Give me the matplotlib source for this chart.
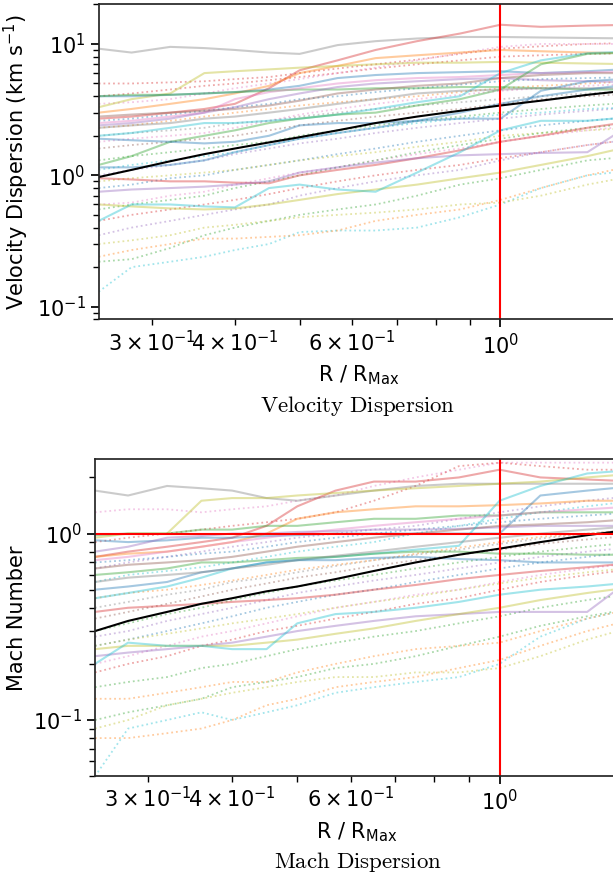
import numpy as np
import matplotlib
matplotlib.use("Agg")
import matplotlib.pyplot as plt

# radius grid (R / R_max) shared by all profiles
r_grid = [0.25, 0.28, 0.32, 0.36, 0.40, 0.45, 0.50, 0.57, 0.65, 0.75, 0.87, 1.0, 1.15, 1.35, 1.6]

# ---- velocity dispersion (km/s) ----
vel_median = [0.97, 1.1, 1.28, 1.45, 1.6, 1.78, 1.95, 2.2, 2.5, 2.8, 3.1, 3.4, 3.7, 4.1, 4.5]

vel_solid = [
    ('tab:gray',   [9.2, 8.6, 9.5, 9.3, 9.0, 8.6, 8.4, 9.8, 10.5, 11.0, 11.3, 11.3, 11.2, 11.1, 11.0]),
    ('tab:red',    [2.7, 2.8, 3.0, 3.2, 3.5, 4.6, 6.3, 7.5, 9.0, 10.5, 12.0, 14.0, 13.5, 13.8, 14.0]),
    ('tab:orange', [3.0, 3.2, 3.5, 3.8, 4.2, 4.8, 6.0, 6.8, 7.8, 8.2, 8.6, 9.0, 8.8, 8.6, 8.5]),
    ('tab:olive',  [3.3, 3.8, 4.2, 6.0, 6.2, 6.4, 6.6, 6.8, 7.0, 7.2, 7.2, 7.3, 7.2, 7.1, 7.0]),
    ('tab:blue',   [4.0, 4.0, 4.1, 4.2, 4.3, 4.5, 4.8, 5.5, 5.8, 6.0, 6.1, 6.2, 6.0, 6.2, 6.5]),
    ('tab:green',  [4.0, 4.1, 4.1, 4.2, 4.3, 4.4, 4.5, 4.5, 4.6, 4.6, 4.7, 4.7, 4.6, 4.5, 4.5]),
    ('tab:pink',   [2.5, 2.6, 2.8, 3.0, 3.8, 4.3, 4.6, 5.0, 5.3, 5.5, 5.6, 5.8, 6.0, 6.1, 6.2]),
    ('tab:purple', [2.4, 2.5, 2.7, 3.0, 3.3, 3.8, 4.2, 4.7, 5.0, 5.2, 5.4, 5.5, 5.3, 5.2, 5.1]),
    ('tab:brown',  [2.8, 2.9, 3.0, 3.1, 3.2, 3.4, 3.7, 4.2, 4.5, 4.8, 5.0, 5.5, 5.8, 6.0, 6.0]),
    ('tab:cyan',   [2.0, 2.1, 2.3, 2.5, 2.5, 2.6, 2.7, 2.9, 3.2, 3.6, 4.0, 6.0, 7.5, 8.5, 8.8]),
    ('tab:green',  [1.2, 1.4, 1.8, 2.0, 2.2, 2.5, 2.7, 2.9, 3.0, 3.4, 3.8, 4.5, 7.0, 8.4, 8.6]),
    ('tab:blue',   [1.9, 1.85, 1.8, 1.75, 1.8, 2.0, 2.4, 2.5, 2.5, 2.6, 2.7, 2.7, 4.4, 5.2, 5.5]),
    ('tab:gray',   [2.3, 2.4, 2.5, 2.7, 2.8, 3.0, 3.2, 3.5, 3.8, 4.2, 4.4, 4.5, 4.6, 4.6, 4.6]),
    ('tab:red',    [0.95, 0.93, 0.9, 0.9, 0.88, 0.87, 1.0, 1.1, 1.2, 1.35, 1.55, 1.8, 2.0, 2.3, 2.6]),
    ('tab:purple', [0.75, 0.78, 0.8, 0.82, 0.85, 0.9, 1.05, 1.15, 1.25, 1.35, 1.42, 1.45, 1.48, 1.5, 2.6]),
    ('tab:olive',  [0.6, 0.58, 0.56, 0.55, 0.56, 0.6, 0.65, 0.72, 0.78, 0.85, 0.95, 1.05, 1.2, 1.4, 1.7]),
    ('tab:cyan',   [0.45, 0.6, 0.6, 0.58, 0.57, 0.8, 0.85, 0.78, 0.75, 1.05, 1.5, 2.2, 2.6, 2.6, 2.8]),
    ('tab:blue',   [1.15, 1.15, 1.2, 1.3, 1.5, 1.7, 1.9, 2.1, 2.3, 2.6, 3.0, 3.5, 4.0, 4.5, 5.0]),
]
vel_dotted = [
    ('tab:cyan',   [0.13, 0.2, 0.22, 0.24, 0.27, 0.3, 0.37, 0.38, 0.38, 0.4, 0.48, 0.6, 0.8, 1.0, 1.1]),
    ('tab:orange', [0.24, 0.27, 0.3, 0.33, 0.33, 0.34, 0.35, 0.38, 0.45, 0.5, 0.55, 0.65, 0.8, 1.0, 1.2]),
    ('tab:green',  [0.22, 0.23, 0.28, 0.35, 0.4, 0.45, 0.5, 0.55, 0.6, 0.7, 0.85, 0.95, 1.1, 1.3, 1.4]),
    ('tab:olive',  [0.3, 0.32, 0.35, 0.4, 0.42, 0.45, 0.48, 0.5, 0.52, 0.55, 0.6, 0.62, 0.7, 0.85, 1.0]),
    ('tab:red',    [0.45, 0.5, 0.55, 0.6, 0.65, 0.72, 0.8, 0.9, 1.0, 1.1, 1.2, 1.35, 1.5, 1.7, 1.9]),
    ('tab:pink',   [0.6, 0.62, 0.7, 0.75, 0.85, 0.95, 1.05, 1.15, 1.3, 1.45, 1.6, 1.8, 2.0, 2.2, 2.4]),
    ('tab:blue',   [0.8, 0.85, 0.95, 1.0, 1.1, 1.2, 1.3, 1.45, 1.6, 1.8, 2.0, 2.2, 2.4, 2.6, 2.8]),
    ('tab:purple', [1.0, 1.1, 1.2, 1.3, 1.45, 1.6, 1.75, 1.9, 2.1, 2.3, 2.5, 2.7, 2.9, 3.1, 3.3]),
    ('tab:green',  [1.3, 1.4, 1.5, 1.6, 1.7, 1.8, 2.0, 2.2, 2.4, 2.6, 2.8, 3.0, 3.2, 3.4, 3.6]),
    ('tab:brown',  [1.6, 1.7, 1.8, 1.9, 2.0, 2.2, 2.4, 2.6, 2.8, 3.0, 3.2, 3.5, 3.8, 4.0, 4.2]),
    ('tab:gray',   [2.0, 2.1, 2.2, 2.3, 2.5, 2.6, 2.8, 3.0, 3.2, 3.4, 3.6, 3.8, 4.0, 4.2, 4.4]),
    ('tab:orange', [2.3, 2.4, 2.6, 2.8, 3.0, 3.2, 3.4, 3.6, 3.8, 4.0, 4.3, 4.6, 4.8, 5.0, 5.2]),
    ('tab:red',    [4.0, 4.2, 4.5, 4.8, 5.0, 5.3, 5.6, 6.0, 6.5, 7.0, 7.5, 8.0, 8.2, 8.4, 8.5]),
    ('tab:pink',   [3.5, 3.6, 3.8, 4.2, 4.6, 5.0, 5.4, 6.0, 6.6, 7.5, 8.5, 9.5, 10.0, 10.0, 10.0]),
    ('tab:cyan',   [1.1, 1.2, 1.3, 1.4, 1.5, 1.7, 1.9, 2.1, 2.3, 2.5, 2.7, 2.9, 3.0, 3.2, 3.3]),
    ('tab:olive',  [0.9, 0.95, 1.0, 1.05, 1.1, 1.2, 1.3, 1.4, 1.5, 1.65, 1.8, 2.0, 2.1, 2.2, 2.3]),
    ('tab:blue',   [2.6, 2.7, 2.9, 3.1, 3.3, 3.5, 3.8, 4.0, 4.3, 4.6, 4.9, 5.2, 5.4, 5.5, 5.6]),
    ('tab:green',  [0.55, 0.6, 0.65, 0.7, 0.8, 0.9, 1.0, 1.15, 1.3, 1.5, 1.7, 1.9, 2.1, 2.3, 2.5]),
    ('tab:purple', [0.35, 0.4, 0.45, 0.5, 0.55, 0.6, 0.7, 0.8, 0.9, 1.0, 1.1, 1.3, 1.5, 1.7, 1.9]),
    ('tab:pink',   [1.8, 1.9, 2.0, 2.1, 2.3, 2.6, 2.9, 3.2, 3.5, 3.8, 4.1, 4.4, 4.6, 4.8, 5.0]),
    ('tab:red',    [5.0, 5.0, 5.1, 5.2, 5.4, 5.6, 6.0, 6.5, 7.0, 7.6, 8.4, 9.2, 9.6, 10.0, 10.2]),
]

# ---- mach number ----
mach_median = [0.30, 0.34, 0.38, 0.42, 0.45, 0.49, 0.52, 0.57, 0.63, 0.70, 0.77, 0.83, 0.90, 0.98, 1.06]

mach_solid = [
    ('tab:gray',   [1.7, 1.6, 1.8, 1.75, 1.7, 1.55, 1.5, 1.6, 1.7, 1.8, 1.85, 1.85, 1.85, 1.85, 1.85]),
    ('tab:red',    [0.75, 0.8, 0.85, 0.9, 0.95, 1.1, 1.4, 1.7, 1.9, 1.9, 2.0, 2.2, 2.0, 1.95, 1.9]),
    ('tab:orange', [0.75, 0.78, 0.8, 0.85, 0.9, 1.0, 1.2, 1.3, 1.35, 1.4, 1.4, 1.42, 1.45, 1.5, 1.5]),
    ('tab:olive',  [0.95, 1.0, 1.0, 1.5, 1.55, 1.55, 1.6, 1.65, 1.7, 1.75, 1.8, 1.85, 1.9, 2.0, 2.1]),
    ('tab:green',  [0.98, 1.0, 1.0, 1.05, 1.05, 1.1, 1.1, 1.15, 1.2, 1.2, 1.25, 1.25, 1.3, 1.3, 1.3]),
    ('tab:blue',   [0.92, 0.9, 0.92, 0.95, 0.95, 0.97, 0.98, 1.0, 1.0, 1.0, 1.0, 1.0, 1.6, 1.7, 1.8]),
    ('tab:purple', [0.8, 0.85, 0.95, 0.97, 1.0, 1.0, 1.02, 1.03, 1.05, 1.05, 1.06, 1.08, 1.1, 1.1, 1.1]),
    ('tab:pink',   [0.72, 0.75, 0.8, 0.85, 0.9, 0.95, 1.0, 1.05, 1.1, 1.15, 1.2, 1.25, 1.3, 1.35, 1.4]),
    ('tab:brown',  [0.65, 0.68, 0.7, 0.72, 0.75, 0.8, 0.85, 0.9, 0.95, 1.0, 1.05, 1.1, 1.12, 1.15, 1.2]),
    ('tab:cyan',   [0.45, 0.48, 0.52, 0.58, 0.65, 0.7, 0.72, 0.75, 0.78, 0.82, 0.86, 1.5, 1.8, 2.1, 2.2]),
    ('tab:green',  [0.6, 0.62, 0.65, 0.7, 0.7, 0.72, 0.74, 0.75, 0.78, 0.8, 0.8, 0.78, 0.78, 0.77, 0.77]),
    ('tab:blue',   [0.5, 0.52, 0.55, 0.62, 0.65, 0.7, 0.72, 0.72, 0.74, 0.75, 0.73, 0.72, 0.7, 0.7, 0.7]),
    ('tab:gray',   [0.55, 0.58, 0.6, 0.62, 0.65, 0.68, 0.72, 0.76, 0.8, 0.85, 0.9, 0.95, 1.0, 1.05, 1.1]),
    ('tab:red',    [0.38, 0.4, 0.41, 0.42, 0.43, 0.44, 0.45, 0.47, 0.5, 0.53, 0.57, 0.6, 0.63, 0.66, 0.7]),
    ('tab:purple', [0.22, 0.23, 0.24, 0.25, 0.26, 0.28, 0.3, 0.32, 0.34, 0.36, 0.37, 0.38, 0.38, 0.38, 0.6]),
    ('tab:olive',  [0.24, 0.25, 0.25, 0.25, 0.25, 0.26, 0.27, 0.29, 0.31, 0.34, 0.37, 0.4, 0.44, 0.48, 0.52]),
    ('tab:cyan',   [0.2, 0.26, 0.25, 0.25, 0.24, 0.24, 0.33, 0.37, 0.38, 0.4, 0.43, 0.47, 0.5, 0.52, 0.55]),
]
mach_dotted = [
    ('tab:cyan',   [0.05, 0.09, 0.1, 0.11, 0.1, 0.11, 0.12, 0.14, 0.15, 0.16, 0.17, 0.2, 0.28, 0.35, 0.4]),
    ('tab:orange', [0.08, 0.08, 0.085, 0.09, 0.1, 0.12, 0.13, 0.15, 0.16, 0.17, 0.19, 0.21, 0.25, 0.3, 0.35]),
    ('tab:green',  [0.1, 0.11, 0.12, 0.13, 0.15, 0.16, 0.17, 0.19, 0.2, 0.22, 0.25, 0.28, 0.32, 0.36, 0.4]),
    ('tab:olive',  [0.09, 0.1, 0.12, 0.13, 0.14, 0.15, 0.16, 0.17, 0.17, 0.18, 0.18, 0.19, 0.22, 0.27, 0.32]),
    ('tab:orange', [0.13, 0.13, 0.14, 0.15, 0.16, 0.16, 0.18, 0.2, 0.22, 0.24, 0.25, 0.26, 0.3, 0.35, 0.4]),
    ('tab:red',    [0.18, 0.2, 0.22, 0.25, 0.27, 0.3, 0.32, 0.35, 0.38, 0.42, 0.45, 0.5, 0.55, 0.6, 0.65]),
    ('tab:pink',   [0.2, 0.22, 0.25, 0.28, 0.3, 0.33, 0.36, 0.4, 0.43, 0.47, 0.5, 0.55, 0.6, 0.65, 0.7]),
    ('tab:blue',   [0.25, 0.27, 0.3, 0.33, 0.36, 0.4, 0.43, 0.47, 0.5, 0.55, 0.6, 0.65, 0.7, 0.75, 0.8]),
    ('tab:purple', [0.28, 0.3, 0.34, 0.37, 0.4, 0.44, 0.48, 0.52, 0.56, 0.6, 0.65, 0.7, 0.75, 0.8, 0.85]),
    ('tab:green',  [0.3, 0.33, 0.37, 0.4, 0.44, 0.48, 0.52, 0.56, 0.6, 0.65, 0.7, 0.75, 0.8, 0.85, 0.9]),
    ('tab:brown',  [0.35, 0.38, 0.42, 0.46, 0.5, 0.54, 0.58, 0.62, 0.67, 0.72, 0.77, 0.82, 0.88, 0.93, 0.98]),
    ('tab:gray',   [0.4, 0.43, 0.47, 0.5, 0.55, 0.58, 0.62, 0.67, 0.72, 0.77, 0.82, 0.88, 0.94, 1.0, 1.05]),
    ('tab:pink',   [1.3, 1.35, 1.35, 1.3, 1.35, 1.4, 1.5, 1.6, 1.8, 2.0, 2.2, 2.4, 2.4, 2.4, 2.4]),
    ('tab:red',    [0.9, 0.95, 1.0, 1.05, 1.1, 1.15, 1.2, 1.3, 1.5, 1.8, 2.3, 2.4, 2.3, 2.2, 2.2]),
    ('tab:cyan',   [0.55, 0.6, 0.63, 0.66, 0.7, 0.75, 0.8, 0.85, 0.9, 1.0, 1.1, 1.2, 1.3, 1.4, 1.5]),
    ('tab:orange', [0.45, 0.48, 0.5, 0.53, 0.56, 0.6, 0.64, 0.68, 0.72, 0.78, 0.84, 0.9, 0.96, 1.0, 1.05]),
    ('tab:olive',  [0.25, 0.27, 0.29, 0.31, 0.33, 0.35, 0.37, 0.4, 0.43, 0.46, 0.5, 0.54, 0.58, 0.62, 0.66]),
    ('tab:purple', [0.65, 0.7, 0.75, 0.8, 0.85, 0.9, 0.95, 1.0, 1.05, 1.1, 1.2, 1.3, 1.4, 1.5, 1.6]),
    ('tab:blue',   [0.7, 0.72, 0.75, 0.78, 0.8, 0.85, 0.9, 0.95, 1.0, 1.05, 1.1, 1.15, 1.2, 1.25, 1.3]),
    ('tab:green',  [0.15, 0.16, 0.17, 0.19, 0.2, 0.22, 0.24, 0.26, 0.28, 0.3, 0.33, 0.36, 0.4, 0.44, 0.48]),
]

plt.rcParams['font.family'] = 'DejaVu Sans'
plt.rcParams['font.size'] = 15
plt.rcParams['axes.labelsize'] = 15
plt.rcParams['axes.edgecolor'] = '.15'
plt.rcParams['axes.linewidth'] = 1.25
for a in ('xtick', 'ytick'):
    plt.rcParams[a + '.major.size'] = 6
    plt.rcParams[a + '.minor.size'] = 4
    plt.rcParams[a + '.major.width'] = 1.25
    plt.rcParams[a + '.minor.width'] = 1.0
    plt.rcParams[a + '.labelsize'] = 15

fig = plt.figure(figsize=(6.13, 8.8), dpi=100)
ax0 = fig.add_axes([0.161, 0.637, 0.847, 0.358])
ax1 = fig.add_axes([0.155, 0.118, 0.853, 0.360])


def draw_profiles(ax, solid, dotted, median):
    for c, y in dotted:
        ax.plot(r_grid, y, ls=':', color=c, alpha=0.4, lw=1.3)
    for c, y in solid:
        ax.plot(r_grid, y, ls='-', color=c, alpha=0.4, lw=1.5)
    ax.plot(r_grid, median, color='black', lw=1.5)
    ax.axvline(1.0, color='red', lw=1.5)
    ax.set_xscale('log')
    ax.set_yscale('log')
    ax.set_xlim(0.25, 1.5)
    ax.set_xlabel(r'R / R$_{\rm Max}$')


draw_profiles(ax0, vel_solid, vel_dotted, vel_median)
ax0.set_ylim(0.08, 20)
ax0.set_ylabel(r'Velocity Dispersion (km s$^{-1}$)')

draw_profiles(ax1, mach_solid, mach_dotted, mach_median)
ax1.axhline(1.0, color='red', lw=1.5)
ax1.set_ylim(0.05, 2.5)
ax1.set_ylabel('Mach Number')

# captions under each panel, in computer modern
fig.text(358 / 613, 1 - 406 / 880, r'$\mathrm{Velocity\ Dispersion}$',
         ha='center', va='center', fontsize=16.5, math_fontfamily='cm')
fig.text(358 / 613, 1 - 862 / 880, r'$\mathrm{Mach\ Dispersion}$',
         ha='center', va='center', fontsize=16.5, math_fontfamily='cm')

fig.savefig('out.png', dpi=100)
